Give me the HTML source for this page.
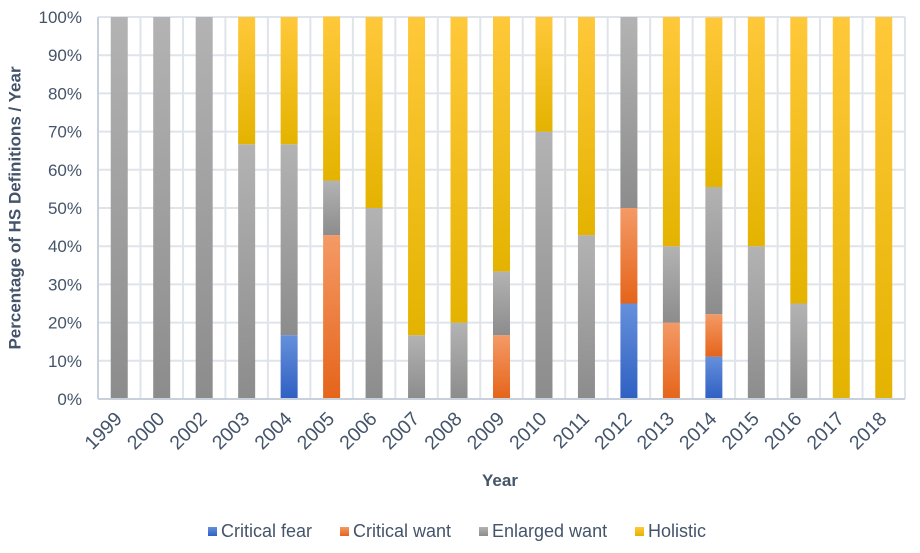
<!DOCTYPE html>
<html><head><meta charset="utf-8"><style>
body{margin:0;background:#fff;font-family:"Liberation Sans",Arial,sans-serif}
svg text{font-family:"Liberation Sans",Arial,sans-serif}
</style></head><body>
<svg id="c" width="920" height="548">
<defs>
<linearGradient id="gFear" x1="0" y1="0" x2="0" y2="1"><stop offset="0" stop-color="#6690dc"/><stop offset="1" stop-color="#2f60c2"/></linearGradient>
<linearGradient id="gWant" x1="0" y1="0" x2="0" y2="1"><stop offset="0" stop-color="#f49a66"/><stop offset="1" stop-color="#e5641a"/></linearGradient>
<linearGradient id="gEnl" x1="0" y1="0" x2="0" y2="1"><stop offset="0" stop-color="#b3b3b3"/><stop offset="1" stop-color="#8c8c8c"/></linearGradient>
<linearGradient id="gHol" x1="0" y1="0" x2="0" y2="1"><stop offset="0" stop-color="#ffc83a"/><stop offset="1" stop-color="#e4b300"/></linearGradient>
</defs>
<g id="grid"></g><g id="bars"></g><g id="axes"></g>
<text x="16" y="208" transform="rotate(-90 16 208)" text-anchor="middle" dominant-baseline="middle" font-size="17" font-weight="bold" fill="#44546a">Percentage of HS Definitions / Year</text>
<text x="500" y="486" text-anchor="middle" font-size="17" font-weight="bold" fill="#44546a">Year</text>
<g id="legend"></g>
</svg>
<script>
const categories=["1999","2000","2002","2003","2004","2005","2006","2007","2008","2009","2010","2011","2012","2013","2014","2015","2016","2017","2018"];
const seriesNames=["Critical fear","Critical want","Enlarged want","Holistic"];
const criticalFear=[0,0,0,0,16.7,0,0,0,0,0,0,0,25,0,11.1,0,0,0,0];
const criticalWant=[0,0,0,0,0,42.9,0,0,0,16.7,0,0,25,20,11.1,0,0,0,0];
const enlargedWant=[100,100,100,66.7,50,14.3,50,16.7,20,16.7,70,42.9,50,20,33.3,40,25,0,0];
const holistic=[0,0,0,33.3,33.3,42.9,50,83.3,80,66.7,30,57.1,0,60,44.4,60,75,100,100];
const yTicks=[0,10,20,30,40,50,60,70,80,90,100];
const NS="http://www.w3.org/2000/svg";
const L=98,R=905,T=17,B=399,bw=17;
const step=(R-L)/categories.length;
const x=i=>L+step*(i+0.5);
const y=v=>B-(B-T)*v/100;
function mk(tag,attrs,parent,txt){const e=document.createElementNS(NS,tag);for(const k in attrs)e.setAttribute(k,attrs[k]);if(txt!==undefined)e.textContent=txt;parent.appendChild(e);return e;}
const grid=document.getElementById('grid'),bars=document.getElementById('bars'),axes=document.getElementById('axes'),leg=document.getElementById('legend');
yTicks.forEach(t=>{
 const l=mk('line',{x1:L,x2:R,y1:y(t),y2:y(t),stroke:'#dfe4ea','stroke-width':2},grid);
 
 
 const tx=mk('text',{x:L-16,y:y(t)+6,'text-anchor':'end','font-size':17,fill:'#44546a'},axes,t+'%');
 
 
});
for(let i=1;i<=categories.length;i++){
 const l=mk('line',{x1:L+step*i,x2:L+step*i,y1:T,y2:B,stroke:'#dfe4ea','stroke-width':2},grid);
 
 
}
const series=[criticalFear,criticalWant,enlargedWant,holistic];
const fills=['url(#gFear)','url(#gWant)','url(#gEnl)','url(#gHol)'];
const keys=['critical-fear','critical-want','enlarged-want','holistic'];
categories.forEach((c,i)=>{
 let acc=0;
 series.forEach((s,k)=>{
  const v=s[i]; if(v<=0)return;
  const r=mk('rect',{x:x(i)-bw/2,y:y(acc+v),width:bw,height:y(acc)-y(acc+v),fill:fills[k]},bars);
  
  
  acc+=v;
 });
 const ax0=x(i)+4, ay0=420;
 const tx=mk('text',{x:ax0,y:ay0,'text-anchor':'end','font-size':19.5,fill:'#44546a',transform:`rotate(-45 ${ax0} ${ay0})`},axes,c);
 
 
});
const ax=mk('line',{x1:L,x2:L,y1:T,y2:B,stroke:'#c8d0dc','stroke-width':2},axes);


const bx=mk('line',{x1:L,x2:R,y1:B,y2:B,stroke:'#c8d0dc','stroke-width':2},axes);


const lx=[208,340,479,635];
seriesNames.forEach((n,k)=>{
 const g=mk('g',{},leg);
 
 
 mk('rect',{x:lx[k],y:527,width:9,height:9,fill:fills[k]},g);
 mk('text',{x:lx[k]+13,y:537,'font-size':18,fill:'#44546a'},g,n);
});
</script>
</body></html>
